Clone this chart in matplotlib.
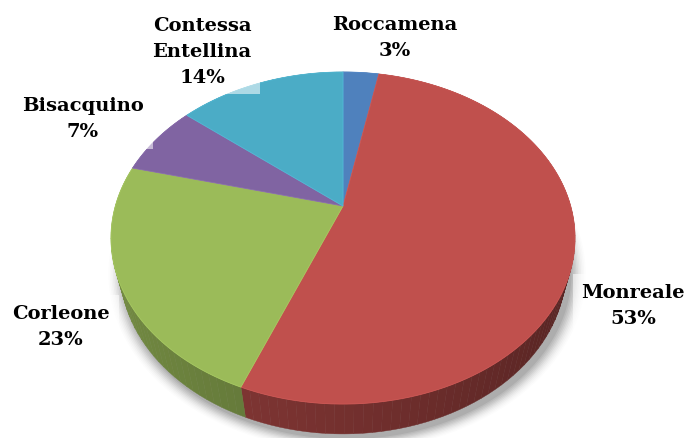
import numpy as np
import matplotlib
matplotlib.use("Agg")
import matplotlib.pyplot as plt
from matplotlib.patches import Polygon
from matplotlib.colors import to_rgb

# Share of each municipality (percent)
categories = ["Roccamena", "Monreale", "Corleone", "Bisacquino", "Contessa\nEntellina"]
values = [3, 53, 23, 7, 14]
colors = ["#4F81BD", "#C0504D", "#9BBB59", "#8064A2", "#4BACC6"]

# label anchor points (pixels) for each slice
label_xy = [(395, 38), (633, 306), (61, 327), (83, 119), (202, 52)]

W, H = 690, 439
fig = plt.figure(figsize=(W / 100, H / 100), dpi=100)
ax = fig.add_axes([0, 0, 1, 1])
ax.set_xlim(0, W)
ax.set_ylim(H, 0)
ax.axis("off")

# simple perspective camera for a tilted disc of unit radius
CX, CY = 343.0, 207.0
F, D = 840.0, 3.69
S, C = np.sin(np.radians(44.6)), np.cos(np.radians(44.6))
THICK = 0.203


def project(u, v, z):
    depth = D - (v * C + z * S)
    return CX + F * u / depth, CY + F * (v * S - z * C) / depth


def arc(t0, t1, z, n=120):
    t = np.radians(np.linspace(t0, t1, n))
    u, v = np.sin(t), -np.cos(t)
    x, y = project(u, v, np.full_like(u, z))
    return np.column_stack([x, y])


def shade(col, k):
    r, g, b = to_rgb(col)
    return (min(r * k, 1), min(g * k, 1), min(b * k, 1))


total = float(sum(values))
bounds = np.concatenate([[0], np.cumsum(values)]) / total * 360.0

# soft drop shadow under the disc
ring = arc(0, 360, -THICK, 240)
cx0, cy0 = ring[:, 0].mean(), ring[:, 1].mean()
for i, a in enumerate(np.linspace(0.06, 0.01, 10)):
    grow = 1 + 0.007 * (i + 1)
    pts = np.column_stack([(ring[:, 0] - cx0) * grow + cx0 + 4,
                           (ring[:, 1] - cy0) * grow + cy0 + 4])
    ax.add_patch(Polygon(pts, closed=True, facecolor="black", edgecolor="none",
                         alpha=a, zorder=1))

# outer walls, drawn in thin strips, darker towards the right
for k in range(len(values)):
    t0, t1 = bounds[k], bounds[k + 1]
    edges = np.linspace(t0, t1, max(2, int((t1 - t0) / 2) + 2))
    for a0, a1 in zip(edges[:-1], edges[1:]):
        u_mid = np.sin(np.radians((a0 + a1) / 2))
        kf = 0.60 - 0.15 * u_mid
        top = arc(a0, a1, 0, 6)
        bot = arc(a0, a1, -THICK, 6)[::-1]
        ax.add_patch(Polygon(np.vstack([top, bot]), closed=True,
                             facecolor=shade(colors[k], kf),
                             edgecolor=shade(colors[k], kf), lw=0.3, zorder=2))

# top faces
apex = np.array(project(0.0, 0.0, 0.0))
for k in range(len(values)):
    pts = np.vstack([apex, arc(bounds[k], bounds[k + 1], 0), apex])
    ax.add_patch(Polygon(pts, closed=True, facecolor=colors[k],
                         edgecolor=shade(colors[k], 1.08), lw=0.6, zorder=3))

# data labels
for name, val, (lx, ly) in zip(categories, values, label_xy):
    ax.text(lx, ly, f"{name}\n{val}%", ha="center", va="center",
            fontsize=14, fontweight="bold", family="DejaVu Serif",
            linespacing=1.55, color="black", zorder=5,
            bbox=dict(boxstyle="square,pad=0.45", facecolor="white",
                      edgecolor="none", alpha=0.55))

fig.savefig("out.png", dpi=100)
